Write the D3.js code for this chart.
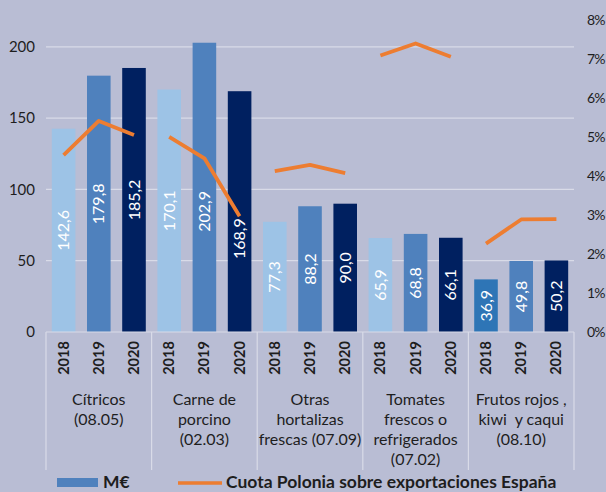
<!DOCTYPE html>
<html>
<head>
<meta charset="utf-8">
<script src="https://cdn.jsdelivr.net/npm/d3@7"></script>
<style>
  body { margin: 0; background: #b9bdd4; }
  svg { display: block; font-family: Lato, "Open Sans", sans-serif; }
</style>
</head>
<body>
<svg id="chart"></svg>
<script>
// Datos
const categories = ['Cítricos', 'Carne de porcino', 'Otras hortalizas frescas', 'Tomates frescos', 'Frutos rojos'];
const categoryLines = [
    ['Cítricos', '(08.05)'],
    ['Carne de', 'porcino', '(02.03)'],
    ['Otras', 'hortalizas', 'frescas (07.09)'],
    ['Tomates', 'frescos o', 'refrigerados', '(07.02)'],
    ['Frutos rojos ,', 'kiwi  y caqui', '(08.10)']
];
const years = ['2018', '2019', '2020'];
const values2018 = [142.6, 170.1, 77.3, 65.9, 36.9];
const values2019 = [179.8, 202.9, 88.2, 68.8, 49.8];
const values2020 = [185.2, 168.9, 90.0, 66.1, 50.2];
const share2018 = [4.54, 5.01, 4.13, 7.10, 2.27];
const share2019 = [5.42, 4.46, 4.29, 7.41, 2.89];
const share2020 = [5.06, 2.97, 4.08, 7.07, 2.90];
const leftTicks = [0, 50, 100, 150, 200];
const rightTicks = [0, 1, 2, 3, 4, 5, 6, 7, 8];

const width = 606;
const height = 492;

const yearColors = { '2018': '#9dc3e6', '2019': '#4f81bd', '2020': '#002060' };
const orange = '#ed7d31';
const textColor = '#1e1e1e';
// etiquetas desplazadas a mano para no pisar la línea
const labelNudge = { 'Carne de porcino-2019': 24, 'Carne de porcino-2020': 27 };

const values = [values2018, values2019, values2020];
const shares = [share2018, share2019, share2020];

const rows = [];
categories.forEach((c, ci) => {
    years.forEach((y, yi) => {
        rows.push({ cat: c, ci, year: y, value: values[yi][ci], share: shares[yi][ci] });
    });
});

const svg = d3.select('#chart')
    .attr('width', width)
    .attr('height', height);

svg.append('rect')
    .attr('width', width)
    .attr('height', height)
    .attr('fill', '#b9bdd4');

// Escalas
const x0 = d3.scaleBand().domain(categories).range([46, 574]).padding(0);
const x1 = d3.scaleBand().domain(years).range([0, x0.bandwidth()])
    .paddingInner(0.33).paddingOuter(0.165);
const yL = d3.scaleLinear().domain([0, 218.5]).range([332, 20.5]);
const yR = d3.scaleLinear().domain([0, 8]).range([332, 20.5]);

const cx = d => x0(d.cat) + x1(d.year) + x1.bandwidth() / 2;

// Rejilla
svg.append('g')
    .selectAll('line')
    .data(leftTicks.filter(t => t > 0))
    .enter().append('line')
    .attr('x1', 46).attr('x2', 574)
    .attr('y1', d => yL(d)).attr('y2', d => yL(d))
    .attr('stroke', '#d9dbe8')
    .attr('stroke-width', 1.2);

// Eje izquierdo
svg.append('g')
    .selectAll('text')
    .data(leftTicks)
    .enter().append('text')
    .attr('x', 35)
    .attr('y', d => yL(d))
    .attr('dy', '0.35em')
    .attr('text-anchor', 'end')
    .attr('font-size', 15)
    .attr('fill', textColor)
    .text(d => d);

// Eje derecho
svg.append('g')
    .selectAll('text')
    .data(rightTicks)
    .enter().append('text')
    .attr('x', 587)
    .attr('y', d => yR(d))
    .attr('dy', '0.35em')
    .attr('font-size', 14)
    .attr('letter-spacing', -0.8)
    .attr('fill', textColor)
    .text(d => d + '%');

// Barras
svg.append('g')
    .selectAll('rect')
    .data(rows)
    .enter().append('rect')
    .attr('x', d => x0(d.cat) + x1(d.year))
    .attr('y', d => yL(d.value))
    .attr('width', x1.bandwidth())
    .attr('height', d => yL(0) - yL(d.value))
    .attr('fill', d => (d.ci === 4 && d.year === '2018') ? '#2e75b6' : yearColors[d.year]);

// Etiquetas de valor
svg.append('g')
    .selectAll('text')
    .data(rows)
    .enter().append('text')
    .attr('transform', d => {
        const y = (yL(d.value) + yL(0)) / 2 + (labelNudge[d.cat + '-' + d.year] || 0);
        return `translate(${cx(d)},${y}) rotate(-90)`;
    })
    .attr('text-anchor', 'middle')
    .attr('dy', '0.35em')
    .attr('font-size', 16)
    .attr('fill', '#fff')
    .text(d => d3.format('.1f')(d.value).replace('.', ','));

// Eje X y separadores
svg.append('line')
    .attr('x1', 46).attr('x2', 574)
    .attr('y1', 332).attr('y2', 332)
    .attr('stroke', '#d9dbe8')
    .attr('stroke-width', 1.2);

svg.append('g')
    .selectAll('line')
    .data(categories.map(c => x0(c)).concat([x0.range()[1]]))
    .enter().append('line')
    .attr('x1', d => d).attr('x2', d => d)
    .attr('y1', 332).attr('y2', 470)
    .attr('stroke', '#d9dbe8')
    .attr('stroke-width', 1.2);

// Años
svg.append('g')
    .selectAll('text')
    .data(rows)
    .enter().append('text')
    .attr('transform', d => `translate(${cx(d)},358) rotate(-90)`)
    .attr('text-anchor', 'middle')
    .attr('dy', '0.35em')
    .attr('font-size', 14.5)
    .attr('font-weight', 'bold')
    .attr('fill', textColor)
    .text(d => d.year);

// Categorías
const catText = svg.append('g')
    .selectAll('text')
    .data(categories)
    .enter().append('text')
    .attr('text-anchor', 'middle')
    .attr('font-size', 16)
    .attr('fill', textColor);

catText.selectAll('tspan')
    .data((d, i) => categoryLines[i].map(l => ({ cat: d, line: l })))
    .enter().append('tspan')
    .attr('x', d => x0(d.cat) + x0.bandwidth() / 2)
    .attr('y', (d, i) => 405 + i * 20)
    .attr('xml:space', 'preserve')
    .text(d => d.line);

// Línea de cuota
const line = d3.line()
    .x(cx)
    .y(d => yR(d.share));

svg.append('g')
    .selectAll('path')
    .data(categories.map(c => rows.filter(r => r.cat === c)))
    .enter().append('path')
    .attr('d', line)
    .attr('fill', 'none')
    .attr('stroke', orange)
    .attr('stroke-width', 3.8)
    .attr('stroke-linejoin', 'round');

// Leyenda
const legend = svg.append('g');
legend.append('rect')
    .attr('x', 57).attr('y', 478)
    .attr('width', 41).attr('height', 9)
    .attr('fill', '#4f81bd');
legend.append('text')
    .attr('x', 103).attr('y', 487.5)
    .attr('font-size', 17.5)
    .attr('font-weight', 'bold')
    .attr('fill', textColor)
    .text('M€');
legend.append('line')
    .attr('x1', 178).attr('x2', 222)
    .attr('y1', 483).attr('y2', 483)
    .attr('stroke', orange)
    .attr('stroke-width', 3.5);
legend.append('text')
    .attr('x', 226).attr('y', 487.5)
    .attr('font-size', 17.5)
    .attr('font-weight', 'bold')
    .attr('fill', textColor)
    .text('Cuota Polonia sobre exportaciones España');
</script>
</body>
</html>
